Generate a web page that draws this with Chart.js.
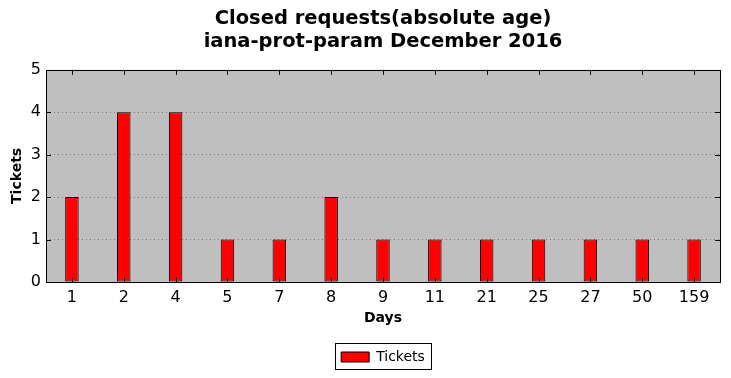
<!DOCTYPE html>
<html><head><meta charset="utf-8">
<script src="https://cdn.jsdelivr.net/npm/chart.js@4"></script>
<style>html,body{margin:0;padding:0;background:#fff}#w{width:731px;height:378px}</style>
</head><body><div id="w"><canvas id="c" width="731" height="378"></canvas></div>
<script>
const categories = ["1","2","4","5","7","8","9","11","21","25","27","50","159"];
const tickets = [2,4,4,1,1,2,1,1,1,1,1,1,1];
const yTicks = [0,1,2,3,4,5];
const titleLines = ["Closed requests(absolute age)","iana-prot-param December 2016"];

const FONT = "'DejaVu Sans', sans-serif";
const framePlugin = {
  id: 'frame',
  beforeDraw(chart) {
    const {ctx, chartArea: a} = chart;
    ctx.save(); ctx.fillStyle = '#bfbfbf';
    ctx.fillRect(a.left, a.top, a.right - a.left, a.bottom - a.top);
    ctx.restore();
  },
  afterDatasetsDraw(chart) {
    const {ctx, chartArea: a, scales} = chart;
    ctx.save();
    ctx.strokeStyle = '#000'; ctx.lineWidth = 1;
    ctx.beginPath();
    const xs = scales.x, ys = scales.y;
    xs.ticks.forEach((t, i) => {
      const x = Math.round(xs.getPixelForTick(i)) + 0.5;
      ctx.moveTo(x, a.bottom); ctx.lineTo(x, a.bottom - 5);
      ctx.moveTo(x, a.top); ctx.lineTo(x, a.top + 5);
    });
    ys.ticks.forEach((t, i) => {
      const y = Math.round(ys.getPixelForTick(i)) + 0.5;
      ctx.moveTo(a.left, y); ctx.lineTo(a.left + 5, y);
      ctx.moveTo(a.right, y); ctx.lineTo(a.right - 5, y);
    });
    ctx.stroke();
    ctx.strokeRect(Math.round(a.left) + 0.5, Math.round(a.top) + 0.5, Math.round(a.right - a.left), Math.round(a.bottom - a.top));
    const hb = chart.legend && chart.legend.legendHitBoxes && chart.legend.legendHitBoxes[0];
    if (hb) {
      ctx.strokeRect(Math.round(hb.left) - 5.5, Math.round(hb.top) - 6.5, Math.round(hb.width) + 12, Math.round(hb.height) + 12);
    }
    ctx.restore();
  }
};

new Chart(document.getElementById('c'), {
  type: 'bar',
  data: {
    labels: categories,
    datasets: [{
      label: 'Tickets', data: tickets,
      backgroundColor: '#ff0000', borderColor: '#000', borderWidth: 1, borderSkipped: false,
      categoryPercentage: 1.0, barPercentage: 0.26
    }]
  },
  options: {
    responsive: false, animation: false, devicePixelRatio: 1,
    layout: { padding: { left: 0, right: 11, top: 0, bottom: 4 } },
    plugins: {
      title: { display: true, text: titleLines, color: '#000', fullSize: false,
        font: { family: FONT, size: 19.5, weight: 'bold', lineHeight: 1.2 },
        padding: { top: 7, bottom: 16 } },
      legend: { position: 'bottom', fullSize: false,
        labels: { color: '#000', font: { family: FONT, size: 14 }, boxWidth: 28, boxHeight: 10, padding: 6 } },
      tooltip: { enabled: false }
    },
    scales: {
      x: {
        grid: { display: false, drawTicks: false }, border: { display: false },
        ticks: { color: '#000', font: { family: FONT, size: 16 }, padding: 6, autoSkip: false, maxRotation: 0 },
        title: { display: true, text: 'Days', color: '#000', font: { family: FONT, size: 14, weight: 'bold' }, padding: { top: 4, bottom: 17 } },
        afterFit(s) { s.height = 62; }
      },
      y: {
        min: 0, max: 5,
        afterBuildTicks(s) { s.ticks = yTicks.map(v => ({ value: v })); },
        grid: { color: c => (c.tick && (c.tick.value === 0 || c.tick.value === 5)) ? 'rgba(0,0,0,0)' : '#7a7a7a', lineWidth: 1, drawTicks: false },
        border: { display: false, dash: [1, 3] },
        ticks: { color: '#000', font: { family: FONT, size: 16 }, padding: 5 },
        title: { display: true, text: 'Tickets', color: '#000', font: { family: FONT, size: 14, weight: 'bold' }, padding: { top: 9, bottom: 6 } },
        afterFit(s) { s.width = 46; }
      }
    }
  },
  plugins: [framePlugin]
});
</script></body></html>
